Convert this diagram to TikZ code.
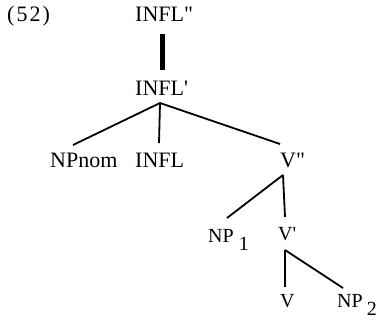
\documentclass[tikz,border=0pt]{standalone}
\usepackage{fontspec}
\setmainfont{Liberation Serif}
\begin{document}
\begin{tikzpicture}[x=1pt,y=-1pt,
  lbl/.style={inner sep=0pt, anchor=base west, font=\fontsize{22}{22}\selectfont},
  lbls/.style={inner sep=0pt, anchor=base west, font=\fontsize{20}{20}\selectfont},
  branch/.style={line width=1.8pt},
  thickbar/.style={line width=5pt}]
\useasboundingbox (0,0) rectangle (377,325);
\node[lbl] (n52) at (7,21) {(\kern2pt5\kern2pt2\kern2pt)};
\node[lbl] (inflpp) at (135,21.5) {INFL\textquotedbl};
\node[lbl] (inflp) at (135,95) {INFL\textquotesingle};
\node[lbl] (npnom) at (50,167) {NPnom};
\node[lbl] (infl) at (135,167) {INFL};
\node[lbl] (vpp) at (280,167) {V\textquotedbl};
\node[lbls] (np1) at (208,242) {NP\hspace{5pt}\raisebox{-8pt}{1}};
\node[lbls] (vp) at (278,240) {V\textquotesingle};
\node[lbls] (v) at (280,307) {V};
\node[lbls] (np2) at (337,307) {NP\hspace{4pt}\raisebox{-8pt}{2}};
\draw[thickbar] ([shift={(27pt,-12.5pt)}]inflpp.base west) -- ([shift={(27pt,25pt)}]inflp.base west);
\draw[branch] ([shift={(25pt,-8pt)}]inflp.base west) -- ([shift={(23pt,22pt)}]npnom.base west);
\draw[branch] ([shift={(25pt,-8pt)}]inflp.base west) -- ([shift={(24pt,24pt)}]infl.base west);
\draw[branch] ([shift={(25pt,-8pt)}]inflp.base west) -- ([shift={(0pt,23pt)}]vpp.base west);
\draw[branch] ([shift={(3pt,-8pt)}]vpp.base west) -- ([shift={(19pt,24pt)}]np1.base west);
\draw[branch] ([shift={(3pt,-8pt)}]vpp.base west) -- ([shift={(7pt,23pt)}]vp.base west);
\draw[branch] ([shift={(7pt,-10pt)}]vp.base west) -- ([shift={(5pt,20pt)}]v.base west);
\draw[branch] ([shift={(7pt,-10pt)}]vp.base west) -- ([shift={(6pt,19pt)}]np2.base west);
\end{tikzpicture}
\end{document}
